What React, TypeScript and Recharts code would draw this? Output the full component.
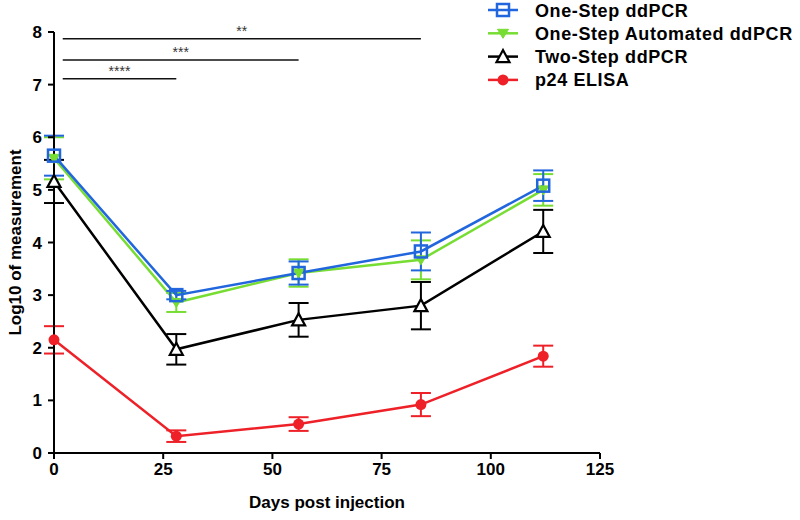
import React from 'react';
import { LineChart, Line, XAxis, YAxis, ErrorBar, ReferenceLine, Label } from 'recharts';

// sampling days
const days = [0, 28, 56, 84, 112];

// log10 values and error bars
const oneStep = [5.65, 3.0, 3.42, 3.83, 5.08];
const oneStepErr = [0.38, 0.08, 0.22, 0.36, 0.29];
const automated = [5.6, 2.86, 3.42, 3.67, 5.0];
const automatedErr = [0.4, 0.18, 0.26, 0.37, 0.3];
const twoStep = [5.16, 1.97, 2.53, 2.8, 4.21];
const twoStepErr = [0.41, 0.29, 0.32, 0.45, 0.41];
const elisa = [2.15, 0.32, 0.55, 0.92, 1.84];
const elisaErr = [0.26, 0.11, 0.13, 0.22, 0.2];

const xTicks = [0, 25, 50, 75, 100, 125];
const yTicks = [0, 1, 2, 3, 4, 5, 6, 7, 8];

// significance brackets (from day 0 to day N)
const sigStart = 2;
const sigEnds = [84, 56, 28];
const sigLevels = [7.87, 7.47, 7.11];
const sigLabels = ['**', '***', '****'];

const BLUE = '#2266dd';
const GREEN = '#77dd33';
const BLACK = '#000000';
const RED = '#ee2028';
const FONT = '"Liberation Sans", Arial, Helvetica, sans-serif';

const data = days.map((d, i) => ({
  day: d,
  oneStep: oneStep[i],
  oneStepErr: oneStepErr[i],
  automated: automated[i],
  automatedErr: automatedErr[i],
  twoStep: twoStep[i],
  twoStepErr: twoStepErr[i],
  elisa: elisa[i],
  elisaErr: elisaErr[i],
}));

const Marker = ({ kind, cx, cy }: { kind: string; cx: number; cy: number }) => {
  if (cx == null || cy == null) return null;
  if (kind === 'square')
    return <rect x={cx - 6} y={cy - 6} width={12} height={12} fill="none" stroke={BLUE} strokeWidth={2.5} />;
  if (kind === 'down')
    return <polygon points={`${cx - 5.5},${cy - 4} ${cx + 5.5},${cy - 4} ${cx},${cy + 5}`} fill={GREEN} stroke={GREEN} strokeWidth={1} />;
  if (kind === 'up')
    return <polygon points={`${cx - 6.5},${cy + 5.5} ${cx + 6.5},${cy + 5.5} ${cx},${cy - 6.5}`} fill="#fff" stroke={BLACK} strokeWidth={2.2} />;
  return <circle cx={cx} cy={cy} r={5.5} fill={RED} />;
};

const series = [
  { key: 'oneStep', name: 'One-Step ddPCR', color: BLUE, kind: 'square' },
  { key: 'automated', name: 'One-Step Automated ddPCR', color: GREEN, kind: 'down' },
  { key: 'twoStep', name: 'Two-Step ddPCR', color: BLACK, kind: 'up' },
  { key: 'elisa', name: 'p24 ELISA', color: RED, kind: 'circle' },
];

const LegendBox = () => (
  <svg width={314} height={95} style={{ position: 'absolute', left: 486, top: 0 }}>
    {series.map((s, i) => {
      const y = 10 + i * 23.3;
      return (
        <g key={s.key}>
          <line x1={2} x2={32} y1={y} y2={y} stroke={s.color} strokeWidth={2.5} />
          <Marker kind={s.kind} cx={17} cy={y} />
          <text x={49} y={y + 6.5} fontFamily={FONT} fontWeight="bold" fontSize={18} letterSpacing={0.6} fill="#000">
            {s.name}
          </text>
        </g>
      );
    })}
  </svg>
);

const tickStyle = { fill: '#000', fontSize: 17, fontWeight: 'bold', fontFamily: FONT };

export default function App() {
  // draw order: red, black, green, blue (blue on top)
  const drawOrder = [series[3], series[2], series[1], series[0]];
  return (
    <div style={{ position: 'absolute', left: 0, top: 0, width: 800, height: 520, background: '#fff' }}>
      <LineChart width={800} height={520} data={data} margin={{ top: 32, right: 200, bottom: 0, left: 0 }}>
        <XAxis
          dataKey="day"
          type="number"
          domain={[0, 125]}
          ticks={xTicks}
          interval={0}
          height={67}
          tickSize={6}
          tickMargin={4}
          axisLine={{ stroke: '#000', strokeWidth: 2 }}
          tickLine={{ stroke: '#000', strokeWidth: 2 }}
          tick={tickStyle}
        >
          <Label
            content={({ viewBox }: any) => (
              <text x={viewBox.x + viewBox.width / 2} y={508} textAnchor="middle" fontFamily={FONT} fontWeight="bold" fontSize={17} fill="#000">
                Days post injection
              </text>
            )}
          />
        </XAxis>
        <YAxis
          type="number"
          domain={[0, 8]}
          ticks={yTicks}
          interval={0}
          width={54}
          tickSize={6}
          tickMargin={6}
          axisLine={{ stroke: '#000', strokeWidth: 2 }}
          tickLine={{ stroke: '#000', strokeWidth: 2 }}
          tick={tickStyle}
        >
          <Label
            content={({ viewBox }: any) => {
              const cy = viewBox.y + viewBox.height / 2;
              return (
                <text x={0} y={0} transform={`translate(21, ${cy}) rotate(-90)`} textAnchor="middle" fontFamily={FONT} fontWeight="bold" fontSize={17} fill="#000">
                  Log10 of measurement
                </text>
              );
            }}
          />
        </YAxis>
        {sigEnds.map((end, i) => (
          <ReferenceLine
            key={sigLabels[i]}
            segment={[{ x: sigStart, y: sigLevels[i] }, { x: end, y: sigLevels[i] }]}
            stroke="#111"
            strokeWidth={1.5}
            ifOverflow="visible"
            label={{ value: sigLabels[i], position: 'top', offset: 3, fontSize: 14, fill: '#333', fontFamily: FONT }}
          />
        ))}
        {drawOrder.map((s) => (
          <Line
            key={s.key}
            dataKey={s.key}
            name={s.name}
            stroke={s.color}
            strokeWidth={2.5}
            isAnimationActive={false}
            dot={(p: any) => <Marker key={`${s.key}-${p.index}`} kind={s.kind} cx={p.cx} cy={p.cy} />}
            activeDot={false}
          >
            <ErrorBar dataKey={`${s.key}Err`} direction="y" width={10} stroke={s.color} strokeWidth={2} />
          </Line>
        ))}
      </LineChart>
      <LegendBox />
    </div>
  );
}
